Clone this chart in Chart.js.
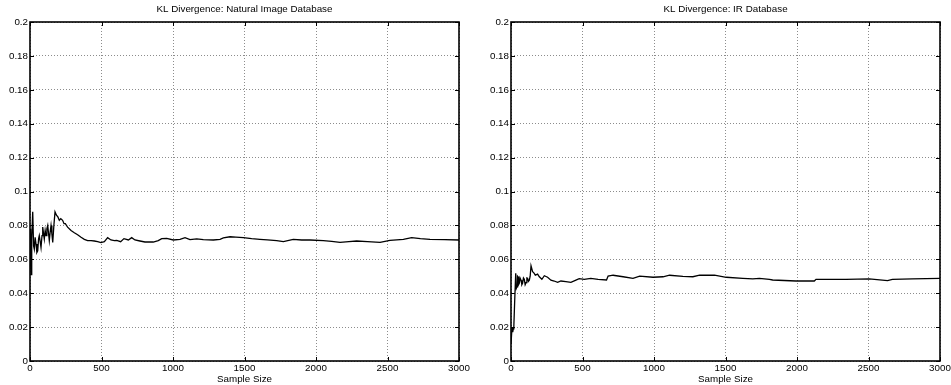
<!DOCTYPE html>
<html>
<head>
<meta charset="utf-8">
<script src="https://cdn.jsdelivr.net/npm/chart.js@4"></script>
<style>
  html, body { margin: 0; padding: 0; background: #fff; overflow: hidden; }
  body { width: 951px; height: 385px; position: relative; }
  canvas { position: absolute; top: 0; }
  #leftChart { left: 0; }
  #rightChart { left: 481px; }
</style>
</head>
<body>
<canvas id="leftChart" width="475" height="385"></canvas>
<canvas id="rightChart" width="475" height="385"></canvas>
<script>
// tick labels / axis ranges
const X_TICKS = [0, 500, 1000, 1500, 2000, 2500, 3000];
const Y_MAX = 0.2;
const Y_STEP = 0.02;

const titles = ["KL Divergence: Natural Image Database", "KL Divergence: IR Database"];
const xLabel = "Sample Size";

// natural image database
const leftSamples = [0, 4, 7, 12, 19, 25, 30, 36, 42, 48, 54, 60, 65, 72, 77, 84, 89, 95, 100, 106,
  112, 118, 124, 130, 135, 141, 147, 153, 159, 167, 175, 185, 195, 205, 215, 228, 238, 247, 263, 287,
  310, 333, 357, 380, 403, 427, 450, 473, 496, 520, 543, 566, 590, 606, 634, 657, 688, 711, 734, 769,
  804, 839, 862, 897, 921, 956, 1002, 1049, 1084, 1119, 1166, 1212, 1282, 1329, 1352, 1399, 1440, 1492, 1550, 1608,
  1660, 1725, 1772, 1841, 1900, 1958, 2051, 2110, 2168, 2230, 2284, 2360, 2448, 2517, 2611, 2669, 2730, 2797, 2900, 3000];
const leftKL = [0.078, 0.058, 0.051, 0.072, 0.088, 0.068, 0.066, 0.073, 0.069, 0.064, 0.065, 0.072, 0.074, 0.070, 0.067, 0.074, 0.079, 0.075, 0.072, 0.077,
  0.074, 0.078, 0.080, 0.075, 0.071, 0.076, 0.080, 0.075, 0.070, 0.080, 0.088, 0.086, 0.085, 0.083, 0.084, 0.083, 0.081, 0.081, 0.079, 0.077,
  0.0757, 0.0745, 0.073, 0.0718, 0.071, 0.071, 0.0708, 0.0704, 0.0698, 0.0704, 0.0728, 0.0714, 0.0710, 0.0712, 0.0704, 0.0722, 0.0714, 0.0728, 0.0714, 0.0708,
  0.0702, 0.0702, 0.0702, 0.0710, 0.0722, 0.0724, 0.0714, 0.0718, 0.0728, 0.0716, 0.0720, 0.0716, 0.0714, 0.0718, 0.0726, 0.0733, 0.0731, 0.0728, 0.0722, 0.0718,
  0.0714, 0.0710, 0.0704, 0.0718, 0.0714, 0.0714, 0.0710, 0.0706, 0.0700, 0.0704, 0.0708, 0.0704, 0.0700, 0.0712, 0.0718, 0.0728, 0.0722, 0.0718, 0.0716, 0.0714];

// IR database
const rightSamples = [0, 7, 12, 16, 20, 26, 33, 38, 42, 46, 49, 53, 58, 63, 70, 76, 81, 87, 93, 99,
  105, 111, 116, 122, 128, 134, 140, 151, 160, 170, 186, 198, 216, 233, 256, 279, 302, 326, 349, 384,
  419, 454, 477, 512, 558, 609, 668, 679, 714, 784, 853, 900, 993, 1063, 1109, 1202, 1272, 1319, 1423, 1505,
  1621, 1691, 1737, 1807, 1830, 1993, 2121, 2133, 2203, 2342, 2505, 2633, 2667, 2807, 3000];
const rightKL = [0.010, 0.020, 0.017, 0.019, 0.021, 0.036, 0.0517, 0.043, 0.0438, 0.050, 0.0497, 0.045, 0.0458, 0.049, 0.0477, 0.045, 0.0458, 0.049, 0.0482, 0.045,
  0.0462, 0.049, 0.0488, 0.047, 0.0477, 0.050, 0.0562, 0.0527, 0.052, 0.0507, 0.0513, 0.0497, 0.0482, 0.0503, 0.0494, 0.0477, 0.0472, 0.0464, 0.0472, 0.0468,
  0.0464, 0.0477, 0.0486, 0.0482, 0.0488, 0.0482, 0.0478, 0.0501, 0.0506, 0.0497, 0.0488, 0.0501, 0.0494, 0.0497, 0.0506, 0.0499, 0.0497, 0.0506, 0.0506, 0.0494,
  0.0488, 0.0484, 0.0488, 0.0482, 0.0478, 0.0472, 0.0472, 0.0482, 0.0482, 0.0482, 0.0484, 0.0474, 0.0482, 0.0484, 0.0488];

const FONT = { family: "Arial, 'Liberation Sans', Helvetica, sans-serif", size: 9.8 };

// matlab-ish box with inward tick marks + title on top
const boxPlugin = {
  id: "box",
  afterDraw(chart, args, opts) {
    const { ctx, chartArea: a, scales } = chart;
    ctx.save();
    ctx.strokeStyle = "#000";
    ctx.lineWidth = 1;
    ctx.beginPath();
    scales.x.ticks.forEach(t => {
      const px = Math.round(scales.x.getPixelForValue(t.value)) + 0.5;
      ctx.moveTo(px, a.bottom); ctx.lineTo(px, a.bottom - 4);
      ctx.moveTo(px, a.top); ctx.lineTo(px, a.top + 4);
    });
    scales.y.ticks.forEach(t => {
      const py = Math.round(scales.y.getPixelForValue(t.value)) + 0.5;
      ctx.moveTo(a.left, py); ctx.lineTo(a.left + 4, py);
      ctx.moveTo(a.right, py); ctx.lineTo(a.right - 4, py);
    });
    ctx.stroke();
    ctx.lineWidth = 1.6;
    ctx.strokeRect(a.left, a.top, a.right - a.left, a.bottom - a.top);
    ctx.fillStyle = "#000";
    ctx.font = FONT.size + "px " + FONT.family;
    ctx.textAlign = "center";
    ctx.textBaseline = "middle";
    ctx.fillText(opts.text, (a.left + a.right) / 2, 9.5);
    ctx.restore();
  }
};

function makeChart(id, title, samples, values) {
  const pts = samples.map((s, i) => ({ x: s, y: values[i] }));
  return new Chart(document.getElementById(id), {
    type: "line",
    data: {
      datasets: [{
        data: pts,
        borderColor: "#000",
        borderWidth: 1.3,
        pointRadius: 0,
        tension: 0,
        fill: false
      }]
    },
    options: {
      responsive: false,
      animation: false,
      layout: { padding: { top: 22, right: 16, left: 0, bottom: 0 } },
      plugins: {
        legend: { display: false },
        tooltip: { enabled: false },
        box: { text: title }
      },
      scales: {
        x: {
          type: "linear",
          min: 0,
          max: 3000,
          afterBuildTicks: (s) => { s.ticks = X_TICKS.map(v => ({ value: v })); },
          afterFit: (s) => { s.height = 24; },
          ticks: { color: "#000", font: FONT, padding: 1, maxRotation: 0, callback: (v) => String(v) },
          grid: { color: "#8c8c8c", lineWidth: 1, drawTicks: false },
          border: { display: false, dash: [1, 2] },
          title: { display: true, text: xLabel, color: "#000", font: FONT, padding: { top: 0, bottom: 0 } }
        },
        y: {
          min: 0,
          max: Y_MAX,
          afterFit: (s) => { s.width = 30; },
          ticks: {
            stepSize: Y_STEP,
            color: "#000",
            font: FONT,
            padding: 2,
            callback: (v) => String(Number(v.toFixed(2)))
          },
          grid: { color: "#8c8c8c", lineWidth: 1, drawTicks: false },
          border: { display: false, dash: [1, 2] }
        }
      }
    },
    plugins: [boxPlugin]
  });
}

makeChart("leftChart", titles[0], leftSamples, leftKL);
makeChart("rightChart", titles[1], rightSamples, rightKL);
</script>
</body>
</html>
